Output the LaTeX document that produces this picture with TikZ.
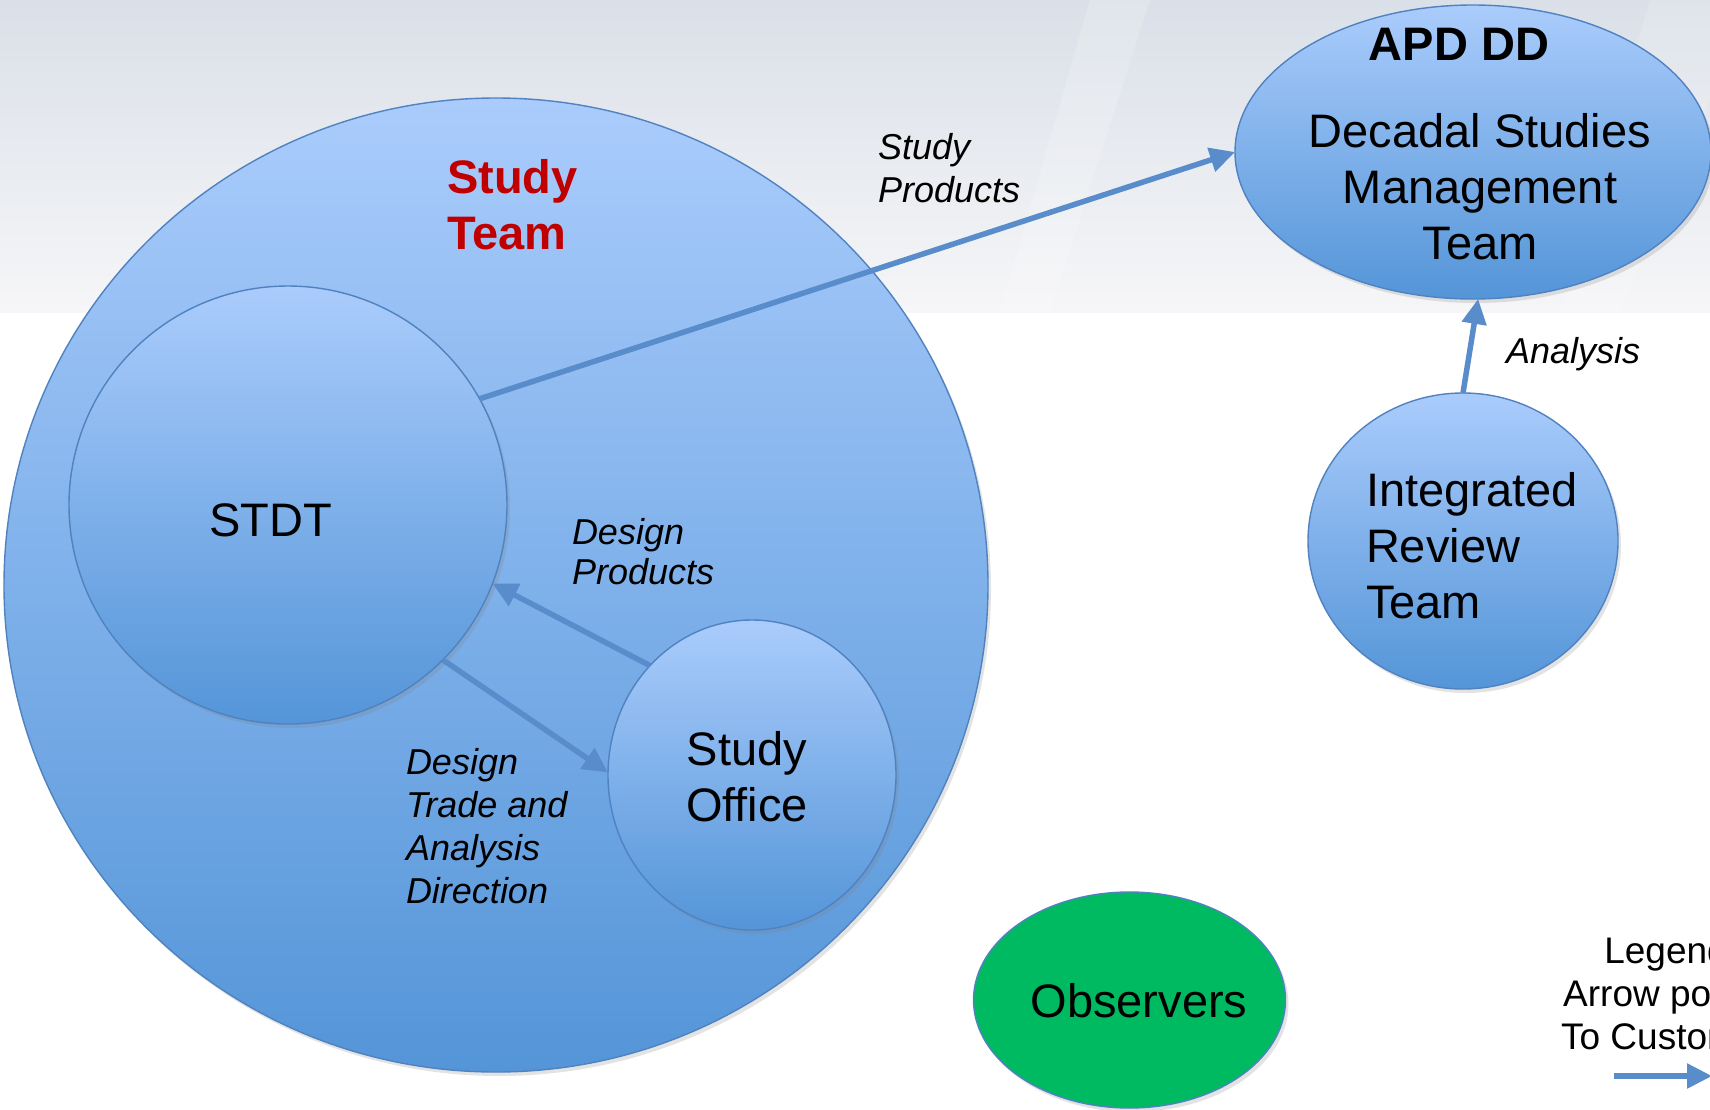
\documentclass[tikz,border=0pt]{standalone}
\usepackage{fontspec}
\setmainfont{Liberation Sans}
\usetikzlibrary{shapes.geometric,arrows.meta,shadows}
\definecolor{bandtop}{RGB}{218,224,232}
\definecolor{bandbot}{RGB}{246,246,248}
\definecolor{blueedge}{RGB}{80,130,192}
\definecolor{bluetop}{RGB}{170,204,252}
\definecolor{bluebot}{RGB}{84,149,216}
\definecolor{arrowblue}{RGB}{88,140,202}
\definecolor{obsgreen}{RGB}{0,186,98}
\definecolor{teamred}{RGB}{192,0,0}
\begin{document}
\begin{tikzpicture}[x=1pt,y=-1pt,
  blob/.style={ellipse, draw=blueedge, line width=1.4pt, top color=bluetop, bottom color=bluebot, inner sep=0pt, outer sep=0pt},
  shad/.style={drop shadow={shadow xshift=3pt, shadow yshift=-4pt, opacity=0.22}},
  flow/.style={draw=arrowblue, line width=5.5pt, -{Triangle[length=25pt,width=24pt]}},
  big/.style={font=\fontsize{47}{56}\selectfont},
  lab/.style={font=\fontsize{36}{43}\selectfont\itshape},
  txt/.style={inner sep=0pt, outer sep=0pt},
]
\useasboundingbox (0,0) rectangle (1710,1109);
\clip (0,0) rectangle (1710,1109);
% background
\fill[white] (0,0) rectangle (1710,1109);
\shade[top color=bandtop, bottom color=bandbot] (0,0) rectangle (1710,312);
\fill[white, opacity=0.18] (1000,312) -- (1090,0) -- (1150,0) -- (1050,312) -- cycle;
\fill[white, opacity=0.15] (1560,312) -- (1650,0) -- (1710,0) -- (1710,100) -- (1620,312) -- cycle;

% shapes
\node[blob, shad, minimum width=984pt, minimum height=974pt] (team) at (496,585) {};
\node[blob, shad, minimum width=438pt, minimum height=438pt] (stdt) at (288,505) {};
\node[blob, shad, minimum width=288pt, minimum height=310pt] (so) at (752,775) {};
\node[blob, shad, minimum width=476pt, minimum height=294pt] (apd) at (1473,152) {};
\node[blob, shad, minimum width=310pt, minimum height=296pt] (irt) at (1463,541) {};
\node[ellipse, draw=blueedge, line width=1.4pt, fill=obsgreen, shad, inner sep=0pt, minimum width=312pt, minimum height=216pt] (obs) at (1129.5,1000) {};

% connectors
\draw[flow] (stdt.29) -- (apd.180);
\draw[flow] (so.133) -- (stdt.-21);
\draw[flow] (stdt.-45) -- (so.179);
\draw[flow] (irt.90) -- (apd.-88);
\coordinate (lgA) at (1614,1076);
\coordinate (lgB) at (1712,1076);
\draw[flow] (lgA) -- (lgB);

% texts
\node[txt, anchor=base west, font=\fontsize{47}{56}\selectfont\bfseries, text=teamred] (tteam) at (447,193)
  {\begin{tabular}[t]{@{}l@{}}Study\\Team\end{tabular}};
\node[txt, anchor=base, font=\fontsize{47}{56}\selectfont\bfseries] (tapd) at (1459,60) {APD DD};
\node[txt, anchor=base, big] (tdsm) at (1480,147)
  {\begin{tabular}[t]{@{}c@{}}Decadal Studies\\Management\\Team\end{tabular}};
\node[txt, anchor=base, big] (tstdt) at (271,536) {STDT};
\node[txt, anchor=base, big] (tso) at (747,765)
  {\begin{tabular}[t]{@{}c@{}}Study\\Office\end{tabular}};
\node[txt, anchor=base west, big] (tirt) at (1366,506)
  {\begin{tabular}[t]{@{}l@{}}Integrated\\Review\\Team\end{tabular}};
\node[txt, anchor=base, big] (tobs) at (1139,1017) {Observers};

\node[txt, anchor=base west, lab] (lsp) at (878,159)
  {\begin{tabular}[t]{@{}l@{}}Study\\Products\end{tabular}};
\node[txt, anchor=base west, font=\fontsize{36}{40}\selectfont\itshape] (ldp) at (572,544)
  {\begin{tabular}[t]{@{}l@{}}Design\\Products\end{tabular}};
\node[txt, anchor=base west, lab] (ldt) at (406,774)
  {\begin{tabular}[t]{@{}l@{}}Design\\Trade and\\Analysis\\Direction\end{tabular}};
\node[txt, anchor=base west, lab] (lan) at (1506,363) {Analysis};
\node[txt, anchor=base, font=\fontsize{37}{43}\selectfont] (leg) at (1666,963)
  {\begin{tabular}[t]{@{}c@{}}Legend\\Arrow points\\To Customer\end{tabular}};
\end{tikzpicture}
\end{document}
